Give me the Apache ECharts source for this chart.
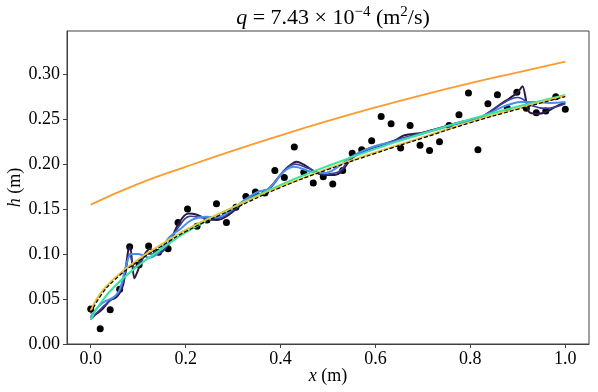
<!DOCTYPE html>
<html>
<head>
<meta charset="utf-8">
<script src="https://cdn.jsdelivr.net/npm/echarts@6/dist/echarts.min.js"></script>
<style>
  html, body { margin: 0; padding: 0; background: #fff; }
</style>
</head>
<body>
<!-- chart container -->
<div id="main" style="width: 598px;height: 392px;"></div>
<script>
// measured points (black dots)
var pointX = [0, 0.020, 0.041, 0.061, 0.082, 0.102, 0.122, 0.143, 0.163, 0.184,
  0.204, 0.224, 0.245, 0.265, 0.286, 0.306, 0.327, 0.347, 0.367, 0.388,
  0.408, 0.429, 0.449, 0.469, 0.490, 0.510, 0.531, 0.551, 0.571, 0.592,
  0.612, 0.633, 0.653, 0.673, 0.694, 0.714, 0.735, 0.755, 0.776, 0.796,
  0.816, 0.837, 0.857, 0.878, 0.898, 0.918, 0.939, 0.959, 0.980, 1.000]
var pointY = [0.039, 0.017, 0.038, 0.061, 0.108, 0.088, 0.109, 0.102, 0.106, 0.135,
  0.150, 0.131, 0.138, 0.156, 0.135, 0.152, 0.164, 0.169, 0.168, 0.193,
  0.185, 0.219, 0.191, 0.179, 0.186, 0.178, 0.193, 0.212, 0.216, 0.226,
  0.253, 0.245, 0.218, 0.243, 0.221, 0.215, 0.225, 0.243, 0.255, 0.279,
  0.216, 0.267, 0.277, 0.262, 0.280, 0.262, 0.257, 0.259, 0.275, 0.261]

// orange curve
var orangeX = [0, 0.1, 0.2, 0.3, 0.4, 0.5, 0.6, 0.7, 0.8, 0.9, 1.0]
var orangeY = [0.155, 0.178, 0.197, 0.215, 0.232, 0.248, 0.263, 0.277, 0.290, 0.302, 0.314]

// smooth fits
var fitX = [0, 0.02, 0.05, 0.1, 0.15, 0.2, 0.3, 0.4, 0.5, 0.6, 0.7, 0.8, 0.9, 1.0]
var dashedY = [0.034, 0.053, 0.071, 0.092, 0.109, 0.125, 0.150, 0.174, 0.194, 0.212, 0.229, 0.246, 0.261, 0.275]
var yellowY = [0.037, 0.056, 0.073, 0.094, 0.111, 0.127, 0.152, 0.175, 0.195, 0.213, 0.230, 0.247, 0.262, 0.276]
var greenY = [0.027, 0.045, 0.064, 0.087, 0.106, 0.124, 0.152, 0.177, 0.198, 0.217, 0.234, 0.250, 0.264, 0.277]

// wiggly fits
var blueX = [0, 0.023, 0.051, 0.062, 0.076, 0.086, 0.1, 0.124, 0.145, 0.166, 0.187, 0.213, 0.243, 0.266,
  0.296, 0.324, 0.352, 0.373, 0.391, 0.408, 0.428, 0.464, 0.493, 0.521, 0.549, 0.577, 0.605, 0.64,
  0.7, 0.78, 0.819, 0.861, 0.889, 0.91, 0.938, 0.966, 1.0]
var blueY = [0.030, 0.045, 0.053, 0.062, 0.090, 0.100, 0.100, 0.096, 0.103, 0.119, 0.127, 0.138, 0.1415, 0.141,
  0.149, 0.160, 0.169, 0.172, 0.182, 0.192, 0.197, 0.1915, 0.190, 0.197, 0.208, 0.2155, 0.221, 0.225,
  0.234, 0.246, 0.251, 0.262, 0.2674, 0.269, 0.269, 0.268, 0.269]

var indigoX = [0, 0.023, 0.045, 0.06, 0.072, 0.082, 0.093, 0.105, 0.12, 0.14, 0.16, 0.185, 0.21, 0.245,
  0.27, 0.3, 0.34, 0.37, 0.4, 0.43, 0.46, 0.49, 0.52, 0.55, 0.6, 0.65, 0.7, 0.78, 0.82, 0.86,
  0.9, 0.93, 0.96, 1.0]
var indigoY = [0.027, 0.040, 0.050, 0.058, 0.075, 0.100, 0.085, 0.092, 0.100, 0.100, 0.108, 0.130, 0.142, 0.140,
  0.140, 0.149, 0.163, 0.170, 0.188, 0.200, 0.195, 0.189, 0.191, 0.207, 0.219, 0.228, 0.235, 0.247, 0.252, 0.265,
  0.274, 0.265, 0.262, 0.267]

var purpleX = [0, 0.023, 0.041, 0.051, 0.06, 0.069, 0.079, 0.083, 0.092, 0.104, 0.114, 0.125, 0.139, 0.153,
  0.167, 0.185, 0.205, 0.222, 0.245, 0.268, 0.289, 0.31, 0.338, 0.366, 0.387, 0.408, 0.433, 0.451,
  0.472, 0.493, 0.514, 0.528, 0.549, 0.577, 0.612, 0.64, 0.661, 0.7, 0.75, 0.784, 0.819, 0.833,
  0.861, 0.882, 0.9, 0.91, 0.9186, 0.924, 0.942, 0.959, 0.98, 1.0]
var purpleY = [0.029, 0.038, 0.049, 0.051, 0.056, 0.067, 0.104, 0.108, 0.073, 0.088, 0.100, 0.106, 0.100, 0.104,
  0.114, 0.134, 0.145, 0.144, 0.139, 0.138, 0.143, 0.152, 0.164, 0.168, 0.179, 0.193, 0.2026, 0.199,
  0.1915, 0.188, 0.188, 0.1915, 0.206, 0.2156, 0.221, 0.226, 0.232, 0.235, 0.242, 0.247, 0.251, 0.2544,
  0.2656, 0.273, 0.280, 0.2867, 0.2674, 0.258, 0.256, 0.258, 0.264, 0.2685]

// tick labels
var xTicks = [0, 0.2, 0.4, 0.6, 0.8, 1.0]
var yTicks = [0, 0.05, 0.10, 0.15, 0.20, 0.25, 0.30]

function pairs(xs, ys) {
  return xs.map(function (x, i) { return [x, ys[i]] })
}

var serif = 'Liberation Serif'
var myChart = echarts.init(document.getElementById('main'))

function curve(name, xs, ys, color, width, smooth, dashed) {
  return {
    name: name,
    type: 'line',
    data: pairs(xs, ys),
    showSymbol: false,
    smooth: smooth,
    lineStyle: { color: color, width: width, type: dashed ? [4, 2] : 'solid' },
    silent: true,
    animation: false
  }
}

var option = {
  animation: false,
  title: {
    text: '{i|q} = 7.43 × 10{sup|−4} (m{sup|2}/s)',
    left: 328,
    textAlign: 'center',
    top: 0,
    textStyle: {
      fontFamily: serif,
      fontSize: 22,
      fontWeight: 'normal',
      color: '#000',
      lineHeight: 26,
      rich: {
        i: { fontFamily: serif, fontSize: 22, fontStyle: 'italic', color: '#000', lineHeight: 26 },
        sup: { fontFamily: serif, fontSize: 15, color: '#000', lineHeight: 16, verticalAlign: 'top' }
      }
    }
  },
  grid: {
    left: 67,
    right: 9,
    top: 31,
    bottom: 48,
    outerBoundsMode: 'none',
    containLabel: false,
    show: true,
    borderColor: '#404040',
    borderWidth: 1,
    backgroundColor: 'transparent'
  },
  xAxis: {
    type: 'value',
    min: -0.05,
    max: 1.05,
    name: '{i|x} (m)',
    nameLocation: 'middle',
    nameGap: 23,
    nameMoveOverlap: false,
    nameTextStyle: {
      fontFamily: serif,
      fontSize: 18,
      color: '#000',
      rich: { i: { fontFamily: serif, fontSize: 18, fontStyle: 'italic', color: '#000' } }
    },
    axisLine: { onZero: false, lineStyle: { color: '#404040', width: 1 } },
    axisTick: { show: true, customValues: xTicks, length: 4, lineStyle: { color: '#404040' } },
    axisLabel: {
      customValues: xTicks,
      margin: 6,
      fontFamily: serif,
      fontSize: 18,
      color: '#000',
      formatter: function (v) { return v.toFixed(1) }
    },
    splitLine: { show: false }
  },
  yAxis: {
    type: 'value',
    min: 0,
    max: 0.348,
    name: '{i|h} (m)',
    nameLocation: 'middle',
    nameRotate: 90,
    nameGap: 43,
    nameMoveOverlap: false,
    nameTextStyle: {
      fontFamily: serif,
      fontSize: 18,
      color: '#000',
      rich: { i: { fontFamily: serif, fontSize: 18, fontStyle: 'italic', color: '#000' } }
    },
    axisLine: { show: true, onZero: false, lineStyle: { color: '#404040', width: 1 } },
    axisTick: { show: true, customValues: yTicks, length: 4, lineStyle: { color: '#404040' } },
    axisLabel: {
      customValues: yTicks,
      margin: 7,
      fontFamily: serif,
      fontSize: 18,
      color: '#000',
      formatter: function (v) { return v.toFixed(2) }
    },
    splitLine: { show: false }
  },
  series: [
    {
      name: 'data',
      type: 'scatter',
      data: pairs(pointX, pointY),
      symbolSize: 7,
      itemStyle: { color: '#000', opacity: 1 },
      silent: true
    },
    curve('purple', purpleX, purpleY, '#2b1a3f', 2, 0.25, false),
    curve('indigo', indigoX, indigoY, '#3b3f9c', 1.6, 0.4, false),
    curve('blue', blueX, blueY, '#4a8cf0', 2, 0.4, false),
    curve('green', fitX, greenY, '#36e69a', 2, true, false),
    curve('yellow', fitX, yellowY, '#e3c53c', 2, true, false),
    curve('fit', fitX, dashedY, '#000', 1.2, true, true),
    curve('orange', orangeX, orangeY, '#ff9a2e', 1.8, true, false)
  ]
}
myChart.setOption(option)
</script>
</body>
</html>
